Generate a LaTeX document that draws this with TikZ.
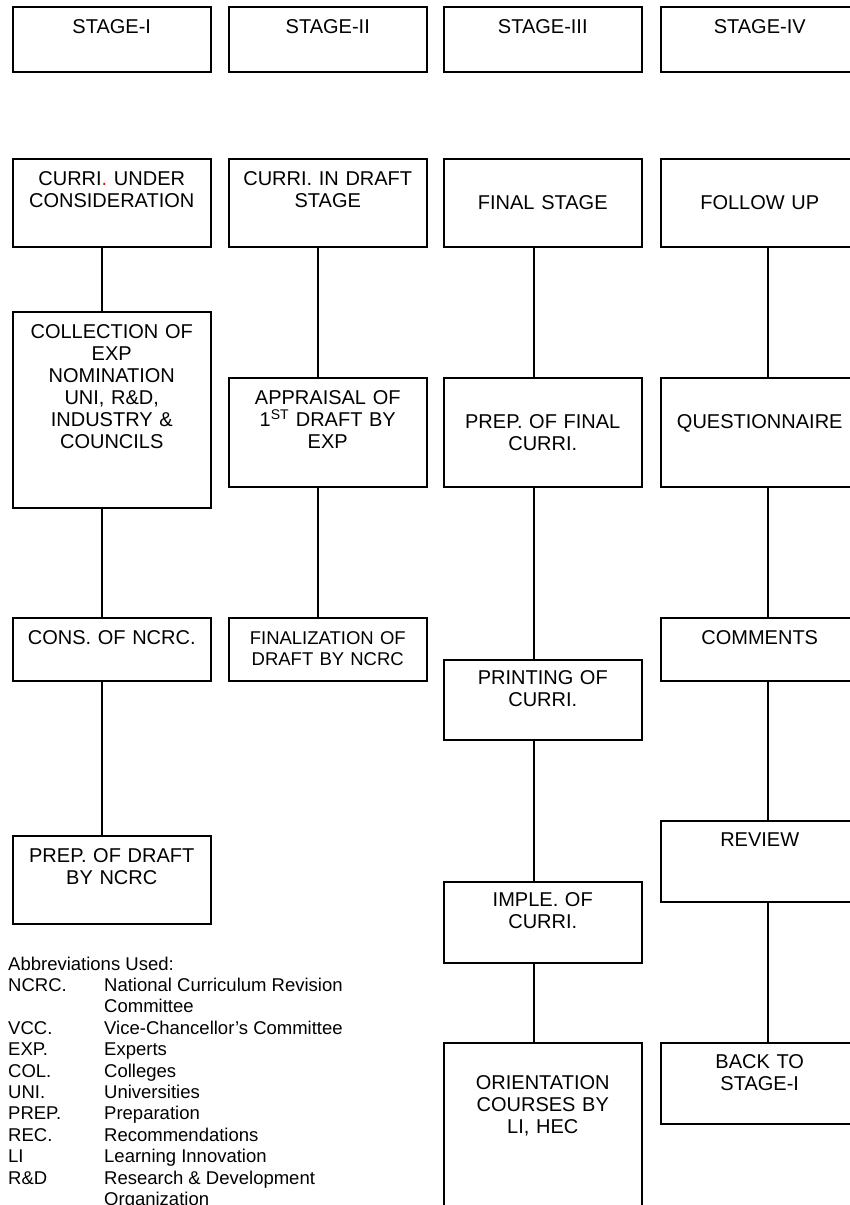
\documentclass[tikz,border=0pt]{standalone}
\usepackage{fontspec}
\setmainfont{Liberation Sans}
\usepackage{xcolor}
\usepackage{tikz}

\tikzset{
  stagebox/.style={draw, line width=1.5pt, anchor=north west, inner xsep=4pt, inner ysep=0pt,
    text width=190pt, align=center, text height=27pt, font=\fontsize{20}{22}\selectfont},
  link/.style={line width=1.5pt}
}

\begin{document}
\begin{tikzpicture}[x=1pt, y=-1pt]
\clip (0,0) rectangle (850,1205);
% stage headings
\node[stagebox, text depth=38pt] (st1) at (12,6) {STAGE-I};
\node[stagebox, text depth=38pt] (st2) at (228,6) {STAGE-II};
\node[stagebox, text depth=38pt] (st3) at (443,6) {STAGE-III};
\node[stagebox, text depth=38pt] (st4) at (660,6) {STAGE-IV};
% stage I
\node[stagebox, text depth=61pt] (under) at (12,158) {CURRI{\color{red}.} UNDER\\CONSIDERATION};
\node[stagebox, text depth=169pt] (collect) at (12,311) {COLLECTION OF\\EXP\\NOMINATION\\UNI, R\&D,\\INDUSTRY \&\\COUNCILS};
\node[stagebox, text depth=36pt] (ncrc) at (12,617) {CONS. OF NCRC.};
\node[stagebox, text depth=61pt] (draft) at (12,835) {PREP. OF DRAFT\\BY NCRC};
% stage II
\node[stagebox, text depth=61pt] (indraft) at (228,158) {CURRI. IN DRAFT\\STAGE};
\node[stagebox, text depth=82pt] (appraisal) at (228,377) {APPRAISAL OF\\1\textsuperscript{ST} DRAFT BY\\EXP};
\node[stagebox, text depth=36pt, font=\fontsize{18.5}{21}\selectfont] (finalize) at (228,617) {FINALIZATION OF\\DRAFT BY NCRC};
% stage III
\node[stagebox, text height=51pt, text depth=37pt] (final) at (443,158) {FINAL STAGE};
\node[stagebox, text height=51pt, text depth=58pt] (prepfinal) at (443,377) {PREP. OF FINAL\\CURRI.};
\node[stagebox, text height=25pt, text depth=55pt] (printing) at (443,659) {PRINTING OF\\CURRI.};
\node[stagebox, text height=25pt, text depth=56pt] (imple) at (443,881) {IMPLE. OF\\CURRI.};
\node[stagebox, text height=47pt, text depth=150pt] (orient) at (443,1042) {ORIENTATION\\COURSES BY\\LI, HEC};
% stage IV
\node[stagebox, text height=51pt, text depth=37pt] (follow) at (660,158) {FOLLOW UP};
\node[stagebox, text height=51pt, text depth=58pt] (quest) at (660,377) {QUESTIONNAIRE};
\node[stagebox, text depth=36pt] (comments) at (660,617) {COMMENTS};
\node[stagebox, text height=26pt, text depth=55pt] (review) at (660,820) {REVIEW};
\node[stagebox, text height=26pt, text depth=55pt] (back) at (660,1042) {BACK TO\\STAGE-I};

% column lines
\coordinate (l1) at (102,0);
\coordinate (l2) at (318,0);
\coordinate (l3) at (534,0);
\coordinate (l4) at (768,0);
\draw[link] (under.south -| l1) -- (collect.north -| l1);
\draw[link] (collect.south -| l1) -- (ncrc.north -| l1);
\draw[link] (ncrc.south -| l1) -- (draft.north -| l1);
\draw[link] (indraft.south -| l2) -- (appraisal.north -| l2);
\draw[link] (appraisal.south -| l2) -- (finalize.north -| l2);
\draw[link] (final.south -| l3) -- (prepfinal.north -| l3);
\draw[link] (prepfinal.south -| l3) -- (printing.north -| l3);
\draw[link] (printing.south -| l3) -- (imple.north -| l3);
\draw[link] (imple.south -| l3) -- (orient.north -| l3);
\draw[link] (follow.south -| l4) -- (quest.north -| l4);
\draw[link] (quest.south -| l4) -- (comments.north -| l4);
\draw[link] (comments.south -| l4) -- (review.north -| l4);
\draw[link] (review.south -| l4) -- (back.north -| l4);

% abbreviations
\node[anchor=base west, inner sep=0pt, font=\fontsize{18.5}{21.4}\selectfont] (abbr) at (8,970) {%
\begin{tabular}[t]{@{}p{96pt}@{}l@{}}
\multicolumn{2}{@{}l@{}}{Abbreviations Used:}\\
NCRC. & National Curriculum Revision\\
 & Committee\\
VCC. & Vice-Chancellor’s Committee\\
EXP. & Experts\\
COL. & Colleges\\
UNI. & Universities\\
PREP. & Preparation\\
REC. & Recommendations\\
LI & Learning Innovation\\
R\&D & Research \& Development\\
 & Organization
\end{tabular}};
\end{tikzpicture}
\end{document}
